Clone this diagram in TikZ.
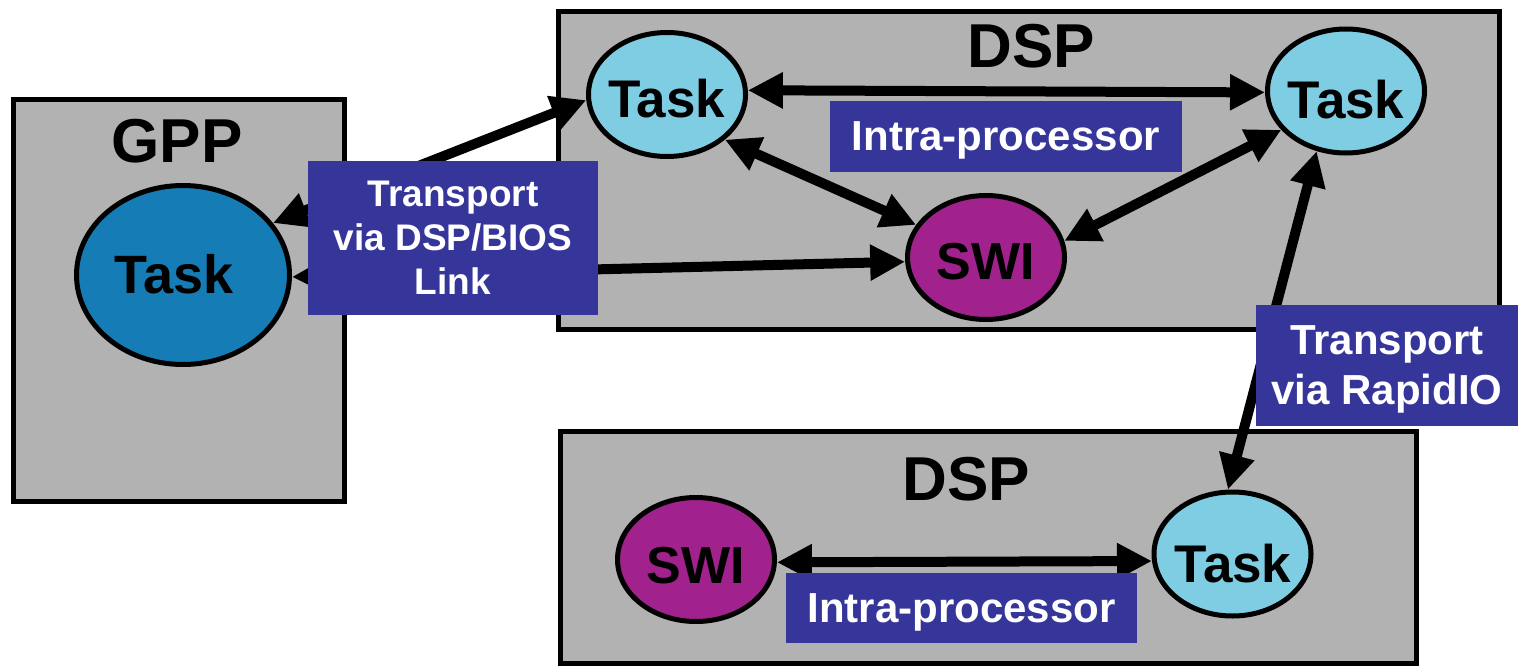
\documentclass[tikz,border=0pt]{standalone}
\usepackage{fontspec}
\setmainfont{Liberation Sans}
\usetikzlibrary{shapes.geometric,arrows.meta}

\definecolor{boxgray}{HTML}{B2B2B2}
\definecolor{taskcyan}{HTML}{7FCDE3}
\definecolor{gppblue}{HTML}{157CB6}
\definecolor{swipurple}{HTML}{A1228D}
\definecolor{tagblue}{HTML}{36369A}

\tikzset{
  procbox/.style={draw=black, line width=5pt, fill=boxgray, inner sep=0pt},
  proctitle/.style={anchor=base, inner sep=0pt, font=\fontsize{62}{62}\selectfont\bfseries},
  job/.style={ellipse, draw=black, line width=5pt, inner sep=0pt,
              minimum width=157pt, minimum height=124pt},
  taskjob/.style={job, fill=taskcyan},
  swijob/.style={job, fill=swipurple},
  jobname/.style={anchor=base, inner sep=0pt, font=\fontsize{53}{53}\selectfont\bfseries},
  tag/.style={fill=tagblue, text=white, inner sep=0pt, align=center, text depth=0pt},
  link/.style={line width=10pt,
    {Triangle[length=35pt,width=34pt]}-{Triangle[length=35pt,width=34pt]}}
}

\begin{document}
\begin{tikzpicture}[x=1pt,y=-1pt]
  \useasboundingbox (0,0) rectangle (1518,666);

  % processor frames
  \node[procbox, minimum width=331pt, minimum height=402pt] (gppbox) at (179,300.5) {};
  \node[procbox, minimum width=941pt, minimum height=317.5pt] (dspA) at (1029,170.75) {};
  \node[procbox, minimum width=856pt, minimum height=232pt] (dspB) at (988.5,547.5) {};

  \node[proctitle] (gpptitle) at (177,163) {GPP};
  \node[proctitle] (dspAtitle) at (1031,68) {DSP};
  \node[proctitle] (dspBtitle) at (966,500) {DSP};

  % threads
  \node[job, fill=gppblue, minimum width=213pt, minimum height=179pt] (gtask) at (183,275) {};
  \node[taskjob] (taskA) at (667,94.5) {};
  \node[taskjob] (taskB) at (1346,91) {};
  \node[swijob] (swiA) at (986,257.5) {};
  \node[swijob] (swiB) at (696,559.5) {};
  \node[taskjob] (taskC) at (1232.5,554) {};

  \node[jobname, font=\fontsize{54}{54}\selectfont\bfseries] (gtaskname) at (174,293) {Task};
  \node[jobname] (taskAname) at (666.5,118) {Task};
  \node[jobname] (taskBname) at (1346,119) {Task};
  \node[jobname, font=\fontsize{52}{52}\selectfont\bfseries] (swiAname) at (985.5,279) {SWI};
  \node[jobname, font=\fontsize{52}{52}\selectfont\bfseries] (swiBname) at (696,583) {SWI};
  \node[jobname] (taskCname) at (1233,582) {Task};

  % communication paths
  \draw[link] (gtask.30) -- (taskA.184);
  \draw[link] (gtask.359) -- (swiA.183);
  \draw[link] (taskA.3) -- (taskB.181.5);
  \draw[link] (taskA.-38) -- (swiA.155);
  \draw[link] (swiA.12.5) -- (taskB.211);
  \draw[link] (taskB.244.6) -- (taskC.94.8);
  \draw[link] (swiB.358) -- (taskC.185.5);

  % path labels
  \node[tag, minimum width=290pt, minimum height=154pt,
        font=\fontsize{37}{44}\selectfont\bfseries] (linktag) at (453,238)
        {Transport\\via DSP/BIOS\\Link};
  \node[tag, minimum width=352pt, minimum height=71pt,
        font=\fontsize{42}{42}\selectfont\bfseries] (intraA) at (1006,136.5) {Intra-processor};
  \node[tag, minimum width=262pt, minimum height=121pt,
        font=\fontsize{42}{50}\selectfont\bfseries] (riotag) at (1387,365.5)
        {Transport\\via RapidIO};
  \node[tag, minimum width=351pt, minimum height=70pt,
        font=\fontsize{42}{42}\selectfont\bfseries] (intraB) at (961.5,608) {Intra-processor};
\end{tikzpicture}
\end{document}
